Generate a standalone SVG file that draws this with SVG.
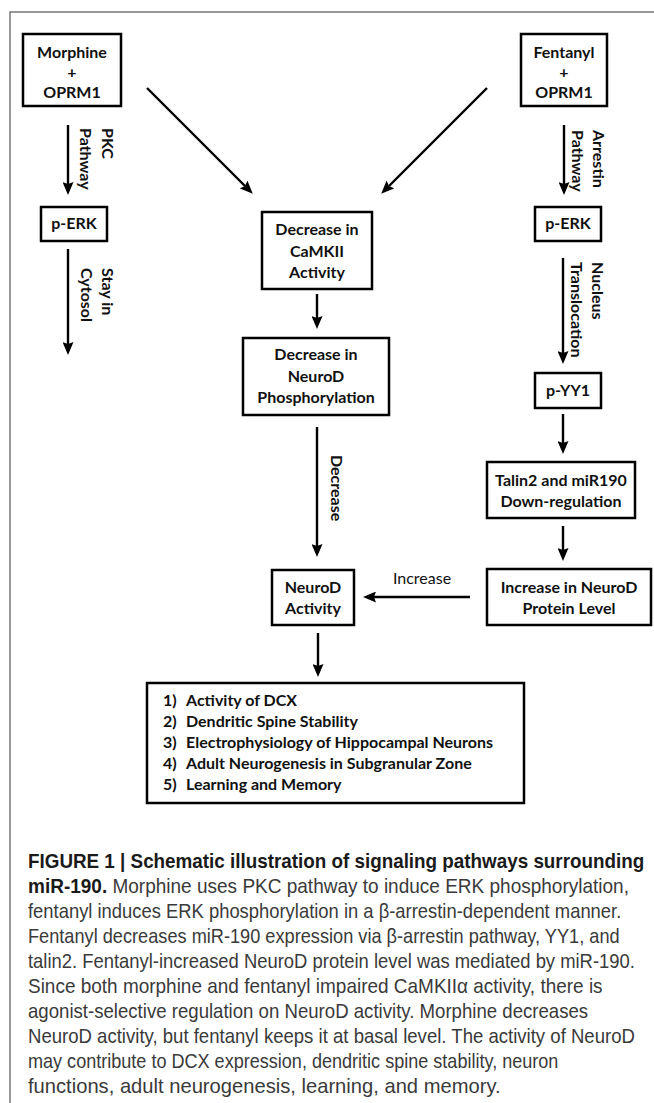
<svg xmlns="http://www.w3.org/2000/svg" width="654" height="1103" viewBox="0 0 654 1103">
<style>
.box{fill:#fff;stroke:#000;stroke-width:2.5}
.t{font-family:Lato,"Open Sans","Liberation Sans",sans-serif;font-weight:700;font-size:16px;fill:#111;text-anchor:middle}
.l{font-family:Lato,"Open Sans","Liberation Sans",sans-serif;font-weight:700;font-size:16px;fill:#111}
.lr{font-family:Lato,"Open Sans","Liberation Sans",sans-serif;font-weight:400;font-size:16px;fill:#111}
.arr{stroke:#000;stroke-width:2.4;fill:none;marker-end:url(#ah)}
.cap{font-family:"Liberation Sans",Arial,sans-serif;font-size:20px;fill:#3a3a3a}
.capb{font-weight:700;fill:#1a1a1a}
</style>
<defs>
<marker id="ah" markerUnits="userSpaceOnUse" markerWidth="13" markerHeight="11" viewBox="0 0 13 11" refX="2" refY="5.5" orient="auto">
<path d="M0,0 L13,5.5 L0,11 L2,5.5 z" fill="#000"/>
</marker>
</defs>
<rect width="654" height="1103" fill="#fff"/>
<path d="M10,1110 V12 H660" fill="none" stroke="#777" stroke-width="1.5"/>

<g id="connectors">
<line class="arr" x1="68" y1="125" x2="68" y2="184"/>
<line class="arr" x1="564" y1="125" x2="564" y2="184"/>
<line class="arr" x1="147" y1="88" x2="245" y2="186"/>
<line class="arr" x1="487" y1="88" x2="389" y2="186"/>
<line class="arr" x1="68" y1="249" x2="68" y2="344"/>
<line class="arr" x1="317" y1="294" x2="317" y2="318"/>
<line class="arr" x1="563" y1="258" x2="563" y2="353"/>
<line class="arr" x1="563" y1="414" x2="563" y2="443"/>
<line class="arr" x1="563" y1="526" x2="563" y2="550"/>
<line class="arr" x1="317" y1="427" x2="317" y2="546"/>
<line class="arr" x1="470" y1="597" x2="374" y2="597"/>
<line class="arr" x1="318" y1="633" x2="318" y2="666"/>
<text class="l" transform="translate(102,128) rotate(90)">PKC</text>
<text class="l" transform="translate(80,128) rotate(90)">Pathway</text>
<text class="l" transform="translate(593,130) rotate(90)">Arrestin</text>
<text class="l" transform="translate(572,130) rotate(90)">Pathway</text>
<text class="l" transform="translate(102,268) rotate(90)">Stay in</text>
<text class="l" transform="translate(81,268) rotate(90)">Cytosol</text>
<text class="l" transform="translate(592,262) rotate(90)">Nucleus</text>
<text class="l" transform="translate(571,262) rotate(90)">Translocation</text>
<text class="l" transform="translate(331,455) rotate(90)">Decrease</text>
<text class="lr" x="422" y="584" text-anchor="middle">Increase</text>
</g>

<g id="morphine">
<rect class="box" x="23" y="34" width="98" height="72"/>
<text class="t" x="72" y="58">Morphine</text>
<text class="t" x="72" y="78">+</text>
<text class="t" x="72" y="98">OPRM1</text>
</g>
<g id="fentanyl">
<rect class="box" x="521" y="34" width="86" height="72"/>
<text class="t" x="564" y="58">Fentanyl</text>
<text class="t" x="564" y="78">+</text>
<text class="t" x="564" y="98">OPRM1</text>
</g>
<g id="perk-left">
<rect class="box" x="41" y="207" width="66" height="34"/>
<text class="t" x="74" y="229">p-ERK</text>
</g>
<g id="perk-right">
<rect class="box" x="535" y="207" width="66" height="34"/>
<text class="t" x="568" y="229">p-ERK</text>
</g>
<g id="camkii">
<rect class="box" x="262" y="212" width="110" height="77"/>
<text class="t" x="317" y="235">Decrease in</text>
<text class="t" x="317" y="257">CaMKII</text>
<text class="t" x="317" y="278">Activity</text>
</g>
<g id="neurod-phos">
<rect class="box" x="243" y="338" width="146" height="77"/>
<text class="t" x="316" y="360">Decrease in</text>
<text class="t" x="316" y="382">NeuroD</text>
<text class="t" x="316" y="403">Phosphorylation</text>
</g>
<g id="pyy1">
<rect class="box" x="535" y="373" width="66" height="35"/>
<text class="t" x="568" y="396">p-YY1</text>
</g>
<g id="talin2">
<rect class="box" x="487" y="462" width="148" height="56"/>
<text class="t" x="561" y="486">Talin2 and miR190</text>
<text class="t" x="561" y="507">Down-regulation</text>
</g>
<g id="neurod-protein">
<rect class="box" x="487" y="569" width="164" height="56"/>
<text class="t" x="569" y="593">Increase in NeuroD</text>
<text class="t" x="569" y="614">Protein Level</text>
</g>
<g id="neurod-activity">
<rect class="box" x="272" y="570" width="82" height="55"/>
<text class="t" x="313" y="593">NeuroD</text>
<text class="t" x="313" y="614">Activity</text>
</g>
<g id="outcomes">
<rect class="box" x="147" y="683" width="377" height="120"/>
<text class="l" x="163" y="706">1)</text><text class="l" x="186" y="706">Activity of DCX</text>
<text class="l" x="163" y="727">2)</text><text class="l" x="186" y="727">Dendritic Spine Stability</text>
<text class="l" x="163" y="748">3)</text><text class="l" x="186" y="748">Electrophysiology of Hippocampal Neurons</text>
<text class="l" x="163" y="769">4)</text><text class="l" x="186" y="769">Adult Neurogenesis in Subgranular Zone</text>
<text class="l" x="163" y="790">5)</text><text class="l" x="186" y="790">Learning and Memory</text>
</g>

<g id="caption">
<text class="cap capb" transform="translate(28,868) scale(0.85,1)" textLength="725" lengthAdjust="spacingAndGlyphs">FIGURE 1 | Schematic illustration of signaling pathways surrounding</text>
<text class="cap" transform="translate(28,893) scale(0.85,1)" textLength="707" lengthAdjust="spacingAndGlyphs"><tspan class="capb">miR-190.</tspan> Morphine uses PKC pathway to induce ERK phosphorylation,</text>
<text class="cap" transform="translate(28,918) scale(0.85,1)" textLength="698" lengthAdjust="spacingAndGlyphs">fentanyl induces ERK phosphorylation in a β-arrestin-dependent manner.</text>
<text class="cap" transform="translate(28,943) scale(0.85,1)" textLength="696" lengthAdjust="spacingAndGlyphs">Fentanyl decreases miR-190 expression via β-arrestin pathway, YY1, and</text>
<text class="cap" transform="translate(28,968) scale(0.85,1)" textLength="714" lengthAdjust="spacingAndGlyphs">talin2. Fentanyl-increased NeuroD protein level was mediated by miR-190.</text>
<text class="cap" transform="translate(28,993) scale(0.85,1)" textLength="676" lengthAdjust="spacingAndGlyphs">Since both morphine and fentanyl impaired CaMKIIα activity, there is</text>
<text class="cap" transform="translate(28,1018) scale(0.85,1)" textLength="659" lengthAdjust="spacingAndGlyphs">agonist-selective regulation on NeuroD activity. Morphine decreases</text>
<text class="cap" transform="translate(28,1043) scale(0.85,1)" textLength="714" lengthAdjust="spacingAndGlyphs">NeuroD activity, but fentanyl keeps it at basal level. The activity of NeuroD</text>
<text class="cap" transform="translate(28,1068) scale(0.85,1)" textLength="624" lengthAdjust="spacingAndGlyphs">may contribute to DCX expression, dendritic spine stability, neuron</text>
<text class="cap" transform="translate(28,1093) scale(0.85,1)" textLength="556" lengthAdjust="spacingAndGlyphs">functions, adult neurogenesis, learning, and memory.</text>
</g>
</svg>
